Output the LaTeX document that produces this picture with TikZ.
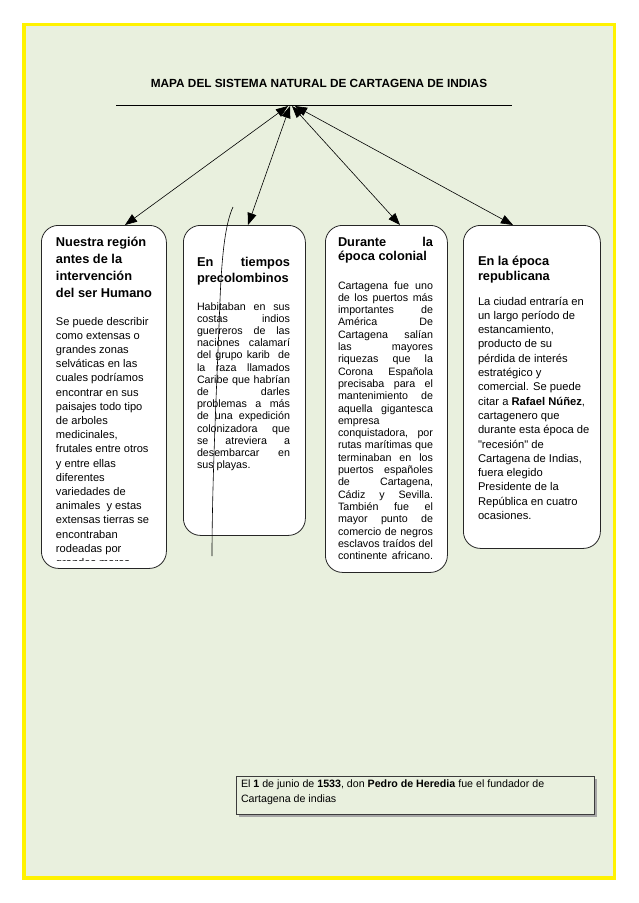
\documentclass[tikz,border=0pt]{standalone}
\usepackage{fontspec}
\setmainfont{Liberation Sans}
\newfontfamily\plainq{Liberation Sans}
\usetikzlibrary{arrows.meta}
\newcommand\J[2]{\noindent\hbox to #1pt{\spaceskip=0pt\xspaceskip=0pt\relax #2}}
\newcommand\T[1]{\rule{0pt}{#1pt}}
\newcommand\NS{\spaceskip=0pt\xspaceskip=0pt\relax}
\newcommand\sq{{\plainq"}}
\definecolor{bggreen}{RGB}{233,240,222}
\definecolor{edgegray}{RGB}{60,60,60}
\begin{document}
\begin{tikzpicture}[x=1pt,y=-1pt,
  rbox/.style={draw=black!85,line width=0.8pt,rounded corners=17pt,fill=white,anchor=north west,inner sep=0pt},
  txt/.style={anchor=north west,inner sep=0pt,outer sep=0pt,align=left},
  link/.style={line width=0.6pt,{Triangle[length=12pt,width=9pt]}-{Triangle[length=12pt,width=9pt]}},
]
\useasboundingbox (0,0) rectangle (638,903);
\fill[white] (0,0) rectangle (638,903);
\draw[yellow,line width=3.5pt,fill=bggreen] (24,24.5) rectangle (614.5,878);

% title and rule
\node[font={\fontsize{11.8}{14}\selectfont\bfseries},anchor=base,inner sep=0pt] (title) at (319,87) {MAPA DEL SISTEMA NATURAL DE CARTAGENA DE INDIAS};
\coordinate (L1) at (116,105.5);
\coordinate (L2) at (512,105.5);
\draw[line width=0.7pt] (L1) -- (L2);

% boxes
\node[rbox,minimum width=125pt,minimum height=343pt] (b1) at (41,225) {};
\node[rbox,minimum width=122pt,minimum height=310pt] (b2) at (183,225) {};
\node[rbox,minimum width=122pt,minimum height=347pt] (b3) at (325,225) {};
\node[rbox,minimum width=137pt,minimum height=323pt] (b4) at (463,225) {};

% box 1
\node[txt,text width=112pt,font={\fontsize{12.8}{17}\selectfont\bfseries}] (b1h) at (56,234) {\NS\T{12}Nuestra región\\antes de la\\intervención\\del ser Humano};
\begin{scope}
\clip (41,225) rectangle (166,560);
\node[txt,text width=112pt,font={\fontsize{11.1}{14.2}\selectfont}] (b1t) at (56,313.5) {\NS\T{11.5}Se puede describir\\como extensas o\\grandes zonas\\selváticas en las\\cuales podríamos\\encontrar en sus\\paisajes todo tipo\\de arboles\\medicinales,\\frutales entre otros\\y entre ellas\\diferentes\\variedades de\\animales~ y estas\\extensas tierras se\\encontraban\\rodeadas por\\grandes mares};
\end{scope}

% box 2
\node[txt,text width=95pt,font={\fontsize{12.8}{16.5}\selectfont\bfseries}] (b2h) at (197,254) {\T{12}\J{93}{En tiempos}\\precolombinos};
\node[txt,text width=95pt,font={\fontsize{10.7}{12.2}\selectfont}] (b2t) at (197,299) {\NS\T{11}\J{93}{Habitaban en sus}\\\J{93}{costas indios}\\\J{93}{guerreros de las}\\\J{93}{naciones calamarí}\\\J{93}{del grupo karib~ de}\\\J{93}{la raza llamados}\\\J{93}{Caribe que habrían}\\\J{93}{de darles}\\\J{93}{problemas a más}\\\J{93}{de una expedición}\\\J{93}{colonizadora que}\\\J{93}{se atreviera a}\\\J{93}{desembarcar en}\\sus playas.};

% box 3
\node[txt,text width=97pt,font={\fontsize{12.8}{14.6}\selectfont\bfseries}] (b3h) at (338,234) {\NS\T{12}\J{95}{Durante la}\\época colonial};
\node[txt,text width=97pt,font={\fontsize{10.7}{12.3}\selectfont}] (b3t) at (338,278) {\NS\T{11}\J{95}{Cartagena fue uno}\\\J{95}{de los puertos más}\\\J{95}{importantes de}\\\J{95}{América De}\\\J{95}{Cartagena salían}\\\J{95}{las mayores}\\\J{95}{riquezas que la}\\\J{95}{Corona Española}\\\J{95}{precisaba para el}\\\J{95}{mantenimiento de}\\\J{95}{aquella gigantesca}\\empresa\\\J{95}{conquistadora, por}\\\J{95}{rutas marítimas que}\\\J{95}{terminaban en los}\\\J{95}{puertos españoles}\\\J{95}{de Cartagena,}\\\J{95}{Cádiz y Sevilla.}\\\J{95}{También fue el}\\\J{95}{mayor punto de}\\\J{95}{comercio de negros}\\\J{95}{esclavos traídos del}\\\J{95}{continente africano.}};

% box 4
\node[txt,text width=120pt,font={\fontsize{12.8}{15}\selectfont\bfseries}] (b4h) at (478,253) {\NS\T{12}En la época\\republicana};
\node[txt,text width=120pt,font={\fontsize{11.2}{14.3}\selectfont}] (b4t) at (478,293.5) {\NS\T{11.5}La ciudad entraría en\\un largo período de\\estancamiento,\\producto de su\\pérdida de interés\\estratégico y\\comercial. Se puede\\citar a \textbf{Rafael Núñez},\\cartagenero que\\durante esta época de\\\sq recesión\sq{} de\\Cartagena de Indias,\\fuera elegido\\Presidente de la\\República en cuatro\\ocasiones.};

% bottom box
\fill[gray!70] (238.5,778.5) rectangle (596.5,816.5);
\node[draw=edgegray,line width=0.9pt,fill=bggreen,anchor=north west,inner sep=0pt,minimum width=358pt,minimum height=38pt] (b5) at (236,776) {};
\node[txt,text width=350pt,font={\fontsize{10.65}{15}\selectfont}] (b5t) at (241,776.5) {\NS\T{10.5}El \textbf{1} de junio de \textbf{1533}, don \textbf{Pedro de Heredia} fue el fundador de\\Cartagena de indias};

% connectors
\coordinate (h1) at (288,106);
\coordinate (h2) at (290,106);
\coordinate (h3) at (292,106);
\coordinate (h4) at (295,106);
\coordinate (t1) at (125,225);
\coordinate (t2) at (248,225);
\coordinate (t3) at (400,225);
\coordinate (t4) at (513,225);
\draw[link] (h1) -- (t1);
\draw[link] (h2) -- (t2);
\draw[link] (h3) -- (t3);
\draw[link] (h4) -- (t4);

% free-hand curve
\coordinate (c0) at (233,207);
\coordinate (c1) at (212,556);
\draw[line width=0.6pt] (c0) .. controls (226,222) and (222,250) .. (220,300) .. controls (217,380) and (212,480) .. (c1);
\end{tikzpicture}
\end{document}
